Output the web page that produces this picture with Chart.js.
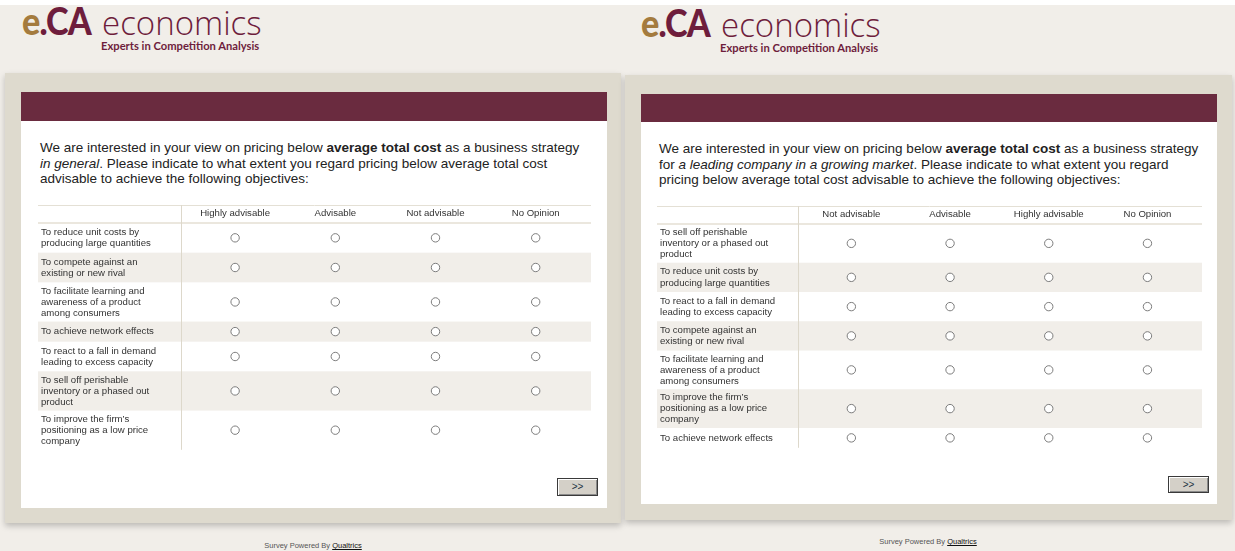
<!DOCTYPE html>
<html>
<head>
<meta charset="utf-8">
<script src="https://cdn.jsdelivr.net/npm/chart.js@4.4.0/dist/chart.umd.min.js"></script>
<style>
  html, body { margin: 0; padding: 0; }
  body {
    width: 1235px; height: 551px; position: relative; overflow: hidden;
    background: #f1eee9; font-family: "Liberation Sans", Arial, sans-serif;
  }
  .topstrip { position: absolute; left: 0; top: 0; width: 1235px; height: 5px; background: #fff; }
  .abs { position: absolute; white-space: nowrap; }
  .frame { background: #dedace; box-shadow: 0 3px 6px rgba(0,0,0,0.22); }
  .card { background: #fff; }
  .bar { background: #6a2b3f; }
  .logo-eca { font-family: "Lato", "DejaVu Sans", sans-serif; font-weight: 900; font-size: 38px; line-height: 1; letter-spacing: -1px; transform: scaleX(0.9); transform-origin: 0 0; }
  .logo-eca .e { color: #a47b3e; }
  .logo-eca .ca { color: #6e1d3c; }
  .logo-eco { font-family: "Open Sans", "Lato", sans-serif; font-weight: 300; font-size: 33px; line-height: 1; color: #6e1d3c; }
  .logo-sub { font-family: "Lato", "Open Sans", sans-serif; font-weight: 700; font-size: 11.2px; line-height: 1; color: #6e1d3c; }
  .question { font-size: 13.5px; line-height: 15.6px; color: #222; white-space: normal; }
  .btn {
    background: #d4d0c8; border: 1px solid #3a3a3a; box-sizing: border-box;
    box-shadow: inset 1px 1px #fff, inset -1px -1px #8a8a8a;
    font-size: 10px; color: #234; text-align: center; line-height: 15px;
  }
  .footer { font-size: 7.5px; color: #555; transform: translateX(-50%); }
  .footer u { color: #111; }
</style>
</head>
<body>
<div class="topstrip"></div>
<script>
// survey 1: pricing in general
const optionsGeneral = ['Highly advisable', 'Advisable', 'Not advisable', 'No Opinion'];
const objectivesGeneral = [
  ['To reduce unit costs by', 'producing large quantities'],
  ['To compete against an', 'existing or new rival'],
  ['To facilitate learning and', 'awareness of a product', 'among consumers'],
  ['To achieve network effects'],
  ['To react to a fall in demand', 'leading to excess capacity'],
  ['To sell off perishable', 'inventory or a phased out', 'product'],
  ['To improve the firm\u2019s', 'positioning as a low price', 'company']
];

// survey 2: leading company in a growing market
const optionsGrowing = ['Not advisable', 'Advisable', 'Highly advisable', 'No Opinion'];
const objectivesGrowing = [
  ['To sell off perishable', 'inventory or a phased out', 'product'],
  ['To reduce unit costs by', 'producing large quantities'],
  ['To react to a fall in demand', 'leading to excess capacity'],
  ['To compete against an', 'existing or new rival'],
  ['To facilitate learning and', 'awareness of a product', 'among consumers'],
  ['To improve the firm\u2019s', 'positioning as a low price', 'company'],
  ['To achieve network effects']
];

const ROW_PAD = 1.1; // extra space per row, in text-line units
const COL_GAP = 3;   // gap between the label column rule and the first answer column

function rowBounds(objectives) {
  const bounds = [0];
  objectives.forEach(lines => bounds.push(bounds[bounds.length - 1] + lines.length + ROW_PAD));
  return bounds;
}

const tableBg = {
  id: 'tableBg',
  beforeDraw(chart, args, opts) {
    const ctx = chart.ctx, y = chart.scales.y, area = chart.chartArea;
    const b = opts.bounds;
    const w = chart.width;
    ctx.save();
    ctx.fillStyle = '#f1eee9';
    for (let i = 1; i < b.length - 1; i += 2) {
      const t = y.getPixelForValue(b[i]), bt = y.getPixelForValue(b[i + 1]);
      ctx.fillRect(0, t, w, bt - t);
    }
    ctx.strokeStyle = '#e4e0d5';
    ctx.lineWidth = 1;
    ctx.beginPath();
    ctx.moveTo(0, 0.5); ctx.lineTo(w, 0.5);
    ctx.stroke();
    ctx.lineWidth = 2;
    ctx.strokeStyle = '#ebe7de';
    ctx.beginPath();
    ctx.moveTo(0, area.top); ctx.lineTo(w, area.top);
    ctx.stroke();
    ctx.lineWidth = 1;
    ctx.strokeStyle = '#ddd8cb';
    const vx = Math.round(area.left) - COL_GAP - 0.5;
    ctx.beginPath();
    ctx.moveTo(vx, 0);
    ctx.lineTo(vx, y.getPixelForValue(b[b.length - 1]));
    ctx.stroke();
    ctx.restore();
  }
};

function buildPanel(p) {
  const add = (cls, css, html) => {
    const d = document.createElement('div');
    d.className = 'abs ' + cls;
    Object.assign(d.style, css);
    if (html) d.innerHTML = html;
    document.body.appendChild(d);
    return d;
  };
  // logo
  add('logo-eca', { left: p.logoX + 'px', top: p.logoY + 'px' }, '<span class="e">e</span><span class="ca">.CA</span>');
  add('logo-eco', { left: (p.logoX + 80) + 'px', top: (p.logoY + 5) + 'px' }, 'economics');
  add('logo-sub', { left: (p.logoX + 79) + 'px', top: (p.logoY + 39) + 'px' }, 'Experts in Competition Analysis');

  add('frame', { left: p.frame[0] + 'px', top: p.frame[1] + 'px', width: p.frame[2] + 'px', height: p.frame[3] + 'px' });
  add('card', { left: p.card[0] + 'px', top: p.card[1] + 'px', width: p.card[2] + 'px', height: p.card[3] + 'px' });
  add('bar', { left: p.card[0] + 'px', top: p.card[1] + 'px', width: p.card[2] + 'px', height: p.barH + 'px' });
  add('question', { left: p.textX + 'px', top: p.textY + 'px', width: p.textW + 'px' }, p.question);

  const wrap = add('', { left: p.table[0] + 'px', top: p.table[1] + 'px', width: p.table[2] + 'px', height: p.table[3] + 'px' });
  const canvas = document.createElement('canvas');
  canvas.width = p.table[2]; canvas.height = p.table[3];
  canvas.style.width = p.table[2] + 'px'; canvas.style.height = p.table[3] + 'px';
  wrap.appendChild(canvas);

  add('btn', { left: p.btn[0] + 'px', top: p.btn[1] + 'px', width: p.btn[2] + 'px', height: p.btn[3] + 'px' }, '&gt;&gt;');
  add('footer', { left: p.footer[0] + 'px', top: p.footer[1] + 'px' }, 'Survey Powered By <u>Qualtrics</u>');

  const bounds = rowBounds(p.objectives);
  const centers = p.objectives.map((o, i) => (bounds[i] + bounds[i + 1]) / 2);
  const datasets = p.options.map(opt => ({
    label: opt,
    data: centers.map(c => ({ x: opt, y: c })),
    pointStyle: 'circle',
    pointRadius: 4.2,
    pointBorderWidth: 1,
    pointBorderColor: '#7c7c7c',
    pointBackgroundColor: '#ffffff',
    clip: false
  }));
  const tickFont = { family: 'Liberation Sans', size: 9.6, lineHeight: 1.15 };

  new Chart(canvas.getContext('2d'), {
    type: 'scatter',
    data: { datasets },
    plugins: [tableBg],
    options: {
      responsive: false,
      animation: false,
      events: [],
      layout: { padding: { left: 3, right: 0, top: 0, bottom: 0 } },
      plugins: { legend: { display: false }, tooltip: { enabled: false }, tableBg: { bounds } },
      scales: {
        x: {
          type: 'category', labels: p.options, offset: true, position: 'top',
          grid: { display: false, drawTicks: false }, border: { display: false },
          ticks: { font: tickFont, color: '#333', padding: 4, maxRotation: 0, autoSkip: false },
          afterFit: s => { s.height = p.headerH; s.paddingLeft = 0; s.paddingRight = 0; }
        },
        y: {
          type: 'linear', reverse: true, min: 0, max: bounds[bounds.length - 1],
          afterBuildTicks: s => { s.ticks = centers.map(v => ({ value: v })); },
          grid: { display: false, drawTicks: false }, border: { display: false },
          ticks: { callback: (v, i) => p.objectives[i], crossAlign: 'far', font: tickFont, color: '#333', autoSkip: false },
          afterFit: s => { s.width = p.labelW + COL_GAP; s.paddingTop = 0; s.paddingBottom = 0; }
        }
      }
    }
  });
}

buildPanel({
  options: optionsGeneral, objectives: objectivesGeneral,
  question: 'We are interested in your view on pricing below <b>average total cost</b> as a business strategy <i>in general</i>. Please indicate to what extent you regard pricing below average total cost advisable to achieve the following objectives:',
  logoX: 22, logoY: 1,
  frame: [5, 73, 616, 450], card: [21, 92, 586, 416], barH: 29,
  textX: 40, textY: 140, textW: 548,
  table: [38, 205, 553, 250], headerH: 18, labelW: 141,
  btn: [557, 478, 41, 18], footer: [313, 541]
});

buildPanel({
  options: optionsGrowing, objectives: objectivesGrowing,
  question: 'We are interested in your view on pricing below <b>average total cost</b> as a business strategy for <i>a leading company in a growing market</i>. Please indicate to what extent you regard pricing below average total cost advisable to achieve the following objectives:',
  logoX: 641, logoY: 3,
  frame: [625, 75, 607, 445], card: [641, 94, 576, 410], barH: 28,
  textX: 659, textY: 141, textW: 548,
  table: [657, 206, 545, 247], headerH: 18, labelW: 139,
  btn: [1168, 476, 41, 17], footer: [928, 537]
});
</script>
</body>
</html>
